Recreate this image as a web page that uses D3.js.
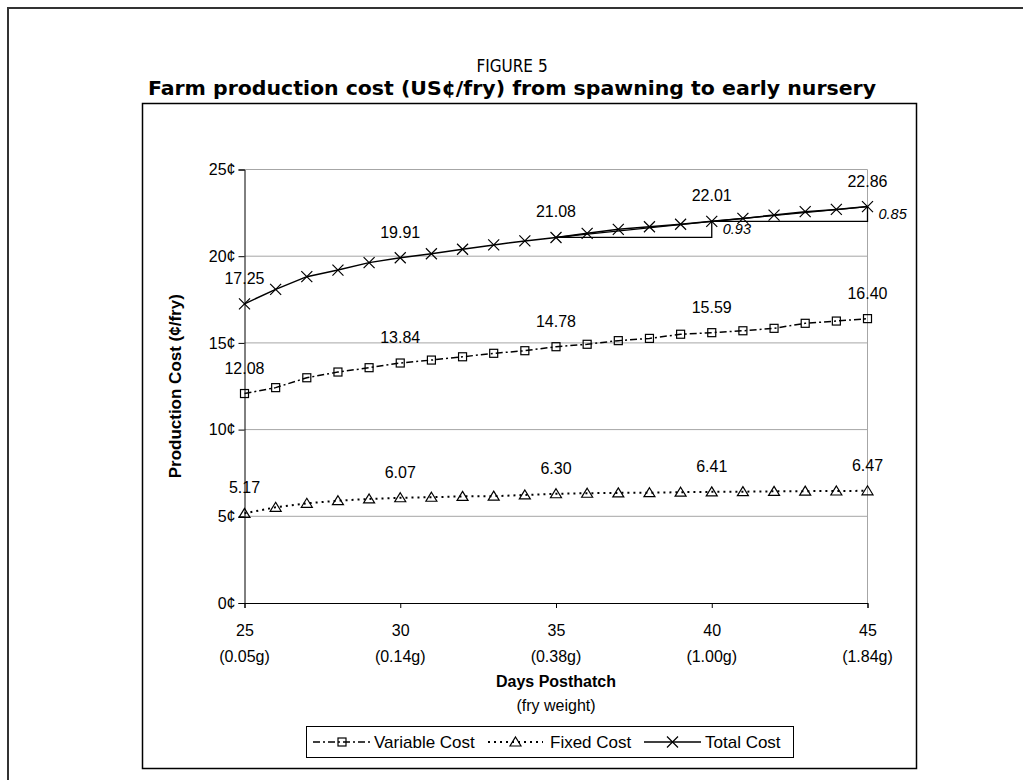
<!DOCTYPE html>
<html>
<head>
<meta charset="utf-8">
<script src="https://cdn.jsdelivr.net/npm/d3@7"></script>
<style>
  body { margin: 0; background: #fff; }
  svg { display: block; }
</style>
</head>
<body>
<svg id="chart" width="1023" height="780"></svg>
<script>
const days = [25, 26, 27, 28, 29, 30, 31, 32, 33, 34, 35, 36, 37, 38, 39, 40, 41, 42, 43, 44, 45]
const variableCost = [12.08, 12.42, 12.99, 13.32, 13.57, 13.84, 14.01, 14.20, 14.40, 14.55, 14.78,
                      14.92, 15.13, 15.26, 15.50, 15.59, 15.70, 15.84, 16.13, 16.26, 16.40]
const fixedCost = [5.17, 5.52, 5.75, 5.90, 6.00, 6.07, 6.10, 6.15, 6.16, 6.23, 6.30,
                   6.33, 6.35, 6.36, 6.39, 6.41, 6.42, 6.44, 6.45, 6.46, 6.47]
const totalCost = [17.25, 18.09, 18.82, 19.20, 19.63, 19.91, 20.14, 20.40, 20.65, 20.88, 21.08,
                   21.32, 21.55, 21.70, 21.84, 22.01, 22.18, 22.37, 22.57, 22.70, 22.86]
const labelDays = [25, 30, 35, 40, 45]
const weightLabels = ['(0.05g)', '(0.14g)', '(0.38g)', '(1.00g)', '(1.84g)']
const yTicks = [0, 5, 10, 15, 20, 25]
const slopePairs = [[35, 40], [40, 45]]

const svg = d3.select('#chart')
const font = 'Liberation Sans, Arial, sans-serif'
const titleFont = "'DejaVu Sans Condensed', 'Open Sans', sans-serif"

const x = d3.scaleLinear().domain([25, 45]).range([244.5, 867.5])
const y = d3.scaleLinear().domain([0, 25]).range([603, 169.5])

// outer frame (right side runs off the page)
svg.append('path')
  .attr('d', 'M8,780 L8,8 L1030,8')
  .attr('fill', 'none').attr('stroke', '#333').attr('stroke-width', 2)

// inner chart box
svg.append('rect')
  .attr('x', 142.5).attr('y', 103.5).attr('width', 774).attr('height', 665)
  .attr('fill', 'none').attr('stroke', '#000').attr('stroke-width', 1.5)

svg.append('text')
  .attr('x', 512).attr('y', 72).attr('text-anchor', 'middle')
  .attr('font-family', titleFont).attr('font-size', 17)
  .text('FIGURE 5')
svg.append('text')
  .attr('x', 512).attr('y', 95).attr('text-anchor', 'middle')
  .attr('font-family', titleFont).attr('font-size', 19).attr('font-weight', 'bold')
  .attr('textLength', 728).attr('lengthAdjust', 'spacingAndGlyphs')
  .text('Farm production cost (US¢/fry) from spawning to early nursery')

// gridlines + right border of plot area
const grid = svg.append('g')
grid.selectAll('line.h')
  .data(yTicks.filter(d => d > 0))
  .join('line')
    .attr('x1', x(25)).attr('x2', x(45))
    .attr('y1', d => y(d)).attr('y2', d => y(d))
    .attr('stroke', '#a6a6a6').attr('stroke-width', 1)
grid.append('line')
  .attr('x1', x(45)).attr('x2', x(45)).attr('y1', y(25)).attr('y2', y(0))
  .attr('stroke', '#a6a6a6').attr('stroke-width', 1)

// axes
const axisY = d3.axisLeft(y).tickValues(yTicks).tickSize(6).tickPadding(3).tickFormat(d => d + '¢')
const axisX = d3.axisBottom(x).tickValues(labelDays).tickSize(5).tickPadding(17).tickFormat(d3.format('d'))

const gy = svg.append('g').attr('transform', `translate(${x(25)},0)`).call(axisY)
const gx = svg.append('g').attr('transform', `translate(0,${y(0)})`).call(axisX)
;[gx, gy].forEach(g => {
  g.select('.domain').attr('stroke', '#000')
  g.selectAll('.tick line').attr('stroke', '#000')
  g.selectAll('text').attr('font-family', font).attr('font-size', 16).attr('fill', '#000')
})

// weight labels under day ticks
svg.append('g').selectAll('text')
  .data(labelDays)
  .join('text')
    .attr('x', d => x(d)).attr('y', 662).attr('text-anchor', 'middle')
    .attr('font-family', font).attr('font-size', 16)
    .text((d, i) => weightLabels[i])

svg.append('text')
  .attr('x', x(35)).attr('y', 687).attr('text-anchor', 'middle')
  .attr('font-family', font).attr('font-size', 16).attr('font-weight', 'bold')
  .text('Days Posthatch')
svg.append('text')
  .attr('x', x(35)).attr('y', 711).attr('text-anchor', 'middle')
  .attr('font-family', font).attr('font-size', 16)
  .text('(fry weight)')

svg.append('text')
  .attr('transform', `translate(181,${(y(0) + y(25)) / 2}) rotate(-90)`)
  .attr('text-anchor', 'middle')
  .attr('font-family', font).attr('font-size', 17).attr('font-weight', 'bold')
  .text('Production Cost (¢/fry)')

// series
const series = [
  { name: 'Variable Cost', values: variableCost, dash: '7,3,2,3', width: 1.5, marker: 'square' },
  { name: 'Fixed Cost', values: fixedCost, dash: '2,4', width: 2, marker: 'triangle' },
  { name: 'Total Cost', values: totalCost, dash: null, width: 1.5, marker: 'cross' }
]

const line = d3.line()
  .x(d => x(d.day))
  .y(d => y(d.v))

function drawMarker (g, type, cx, cy) {
  if (type === 'square') {
    g.append('rect').attr('x', cx - 4).attr('y', cy - 4).attr('width', 8).attr('height', 8)
      .attr('fill', 'none').attr('stroke', '#000').attr('stroke-width', 1.2)
  } else if (type === 'triangle') {
    g.append('path').attr('d', `M${cx},${cy - 5} L${cx + 5.5},${cy + 4} L${cx - 5.5},${cy + 4} Z`)
      .attr('fill', 'none').attr('stroke', '#000').attr('stroke-width', 1.2)
  } else {
    g.append('path').attr('d', `M${cx - 5.5},${cy - 5.5} L${cx + 5.5},${cy + 5.5} M${cx - 5.5},${cy + 5.5} L${cx + 5.5},${cy - 5.5}`)
      .attr('fill', 'none').attr('stroke', '#000').attr('stroke-width', 1.2)
  }
}

series.forEach(s => {
  const pts = days.map((day, i) => ({ day: day, v: s.values[i] }))
  const g = svg.append('g')
  g.append('path')
    .attr('d', line(pts))
    .attr('fill', 'none').attr('stroke', '#000').attr('stroke-width', s.width)
    .attr('stroke-dasharray', s.dash)
  pts.forEach(p => drawMarker(g, s.marker, x(p.day), y(p.v)))
  g.selectAll('text')
    .data(pts.filter(p => labelDays.includes(p.day)))
    .join('text')
      .attr('x', p => x(p.day)).attr('y', p => y(p.v) - 20)
      .attr('text-anchor', 'middle')
      .attr('font-family', font).attr('font-size', 16)
      .text(p => p.v.toFixed(2))
})

// slope triangles on total cost
const slope = svg.append('g')
slopePairs.forEach(([a, b]) => {
  const va = totalCost[days.indexOf(a)]
  const vb = totalCost[days.indexOf(b)]
  slope.append('path')
    .attr('d', `M${x(a)},${y(va)} L${x(b)},${y(va)} L${x(b)},${y(vb)} Z`)
    .attr('fill', 'none').attr('stroke', '#000').attr('stroke-width', 1.3)
  slope.append('text')
    .attr('x', x(b) + 11).attr('y', (y(va) + y(vb)) / 2 + 5)
    .attr('font-family', font).attr('font-size', 14.5).attr('font-style', 'italic')
    .text((vb - va).toFixed(2))
})

// legend
const legend = svg.append('g')
legend.append('rect')
  .attr('x', 306.5).attr('y', 726.5).attr('width', 487).attr('height', 31)
  .attr('fill', '#fff').attr('stroke', '#000').attr('stroke-width', 1)
const legendItems = [
  { s: series[0], x1: 313, x2: 371, tx: 374 },
  { s: series[1], x1: 488, x2: 543, tx: 550 },
  { s: series[2], x1: 644, x2: 701, tx: 705 }
]
legendItems.forEach(it => {
  legend.append('line')
    .attr('x1', it.x1).attr('x2', it.x2).attr('y1', 742).attr('y2', 742)
    .attr('stroke', '#000').attr('stroke-width', it.s.width).attr('stroke-dasharray', it.s.dash)
  drawMarker(legend, it.s.marker, (it.x1 + it.x2) / 2, 742)
  legend.append('text')
    .attr('x', it.tx).attr('y', 748)
    .attr('font-family', font).attr('font-size', 17)
    .text(it.s.name)
})
</script>
</body>
</html>
